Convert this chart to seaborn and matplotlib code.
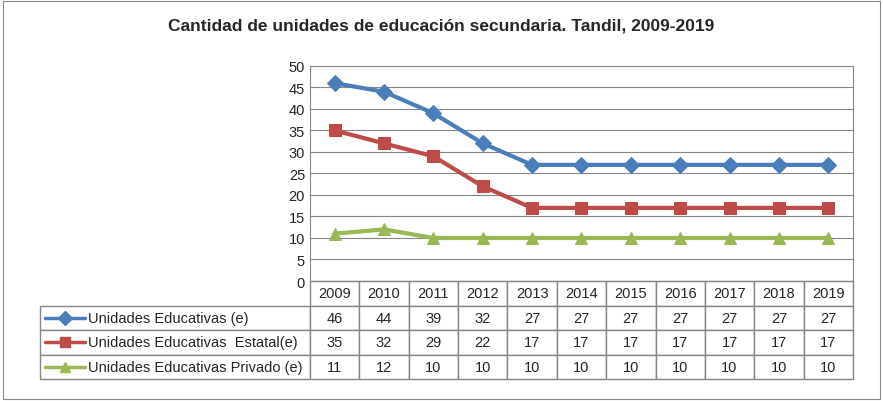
import matplotlib
matplotlib.use('Agg')
import matplotlib.pyplot as plt
import seaborn as sns
import pandas as pd

years = ['2009', '2010', '2011', '2012', '2013', '2014', '2015', '2016', '2017', '2018', '2019']
total = [46, 44, 39, 32, 27, 27, 27, 27, 27, 27, 27]
estatal = [35, 32, 29, 22, 17, 17, 17, 17, 17, 17, 17]
privado = [11, 12, 10, 10, 10, 10, 10, 10, 10, 10, 10]
names = ['Unidades Educativas (e)', 'Unidades Educativas  Estatal(e)', 'Unidades Educativas Privado (e)']
colors = ['#4a7ebb', '#be4b48', '#98b954']
markers = ['D', 's', '^']

sns.set_style('white')
plt.rcParams['font.family'] = ['Liberation Sans', 'DejaVu Sans']

fig = plt.figure(figsize=(8.83, 4.02), dpi=100)
fig.patches.append(plt.Rectangle((0.003, 0.005), 0.994, 0.99, transform=fig.transFigure,
                                 fill=False, edgecolor='#888888', lw=0.8))
ax = fig.add_axes([0.351, 0.2985, 0.615, 0.535])

df = pd.DataFrame({'x': list(range(len(years))) * 3,
                   'v': total + estatal + privado,
                   's': sum([[n] * len(years) for n in names], [])})
for n, c, m in zip(names, colors, markers):
    d = df[df.s == n]
    sns.lineplot(data=d, x='x', y='v', ax=ax, color=c, lw=3, marker=m, markersize=8,
                 markeredgecolor=c, legend=False)

ax.set_xlim(-0.5, len(years) - 0.5)
ax.set_ylim(0, 50)
ax.set_yticks(range(0, 51, 5))
ax.set_xticks([])
ax.set_xlabel('')
ax.set_ylabel('')
ax.grid(axis='y', color='#868686', lw=0.8)
for s in ax.spines.values():
    s.set_color('#868686')
ax.tick_params(axis='y', labelsize=10.5, length=0)

cell = [[''] + years] + [[n] + [str(v) for v in vals] for n, vals in zip(names, [total, estatal, privado])]
tbl = ax.table(cellText=cell, bbox=[-0.497, -0.456, 1.497, 0.456], cellLoc='center')
tbl.auto_set_font_size(False)
tbl.set_fontsize(10.5)
lw = 0.497 / 1.497
cw = (1 - lw) / len(years)
for (r, c), cl in tbl.get_celld().items():
    cl.set_edgecolor('#868686')
    cl.set_width(lw if c == 0 else cw)
    if c == 0:
        cl.get_text().set_text('')
        if r == 0:
            cl.visible_edges = ''
# row labels with legend keys
for i, (n, c, m) in enumerate(zip(names, colors, markers)):
    y = -0.456 + (2.5 - i) * 0.114
    ax.plot([-0.488, -0.415], [y, y], transform=ax.transAxes, color=c, lw=2.5, clip_on=False)
    ax.plot([-0.4515], [y], transform=ax.transAxes, color=c, marker=m, markersize=7, clip_on=False)
    ax.text(-0.408, y, n, transform=ax.transAxes, ha='left', va='center', fontsize=10.5)

fig.text(0.5, 0.925, 'Cantidad de unidades de educación secundaria. Tandil, 2009-2019',
         ha='center', fontsize=12.5, fontweight='bold')
fig.savefig('out.png', dpi=100)
